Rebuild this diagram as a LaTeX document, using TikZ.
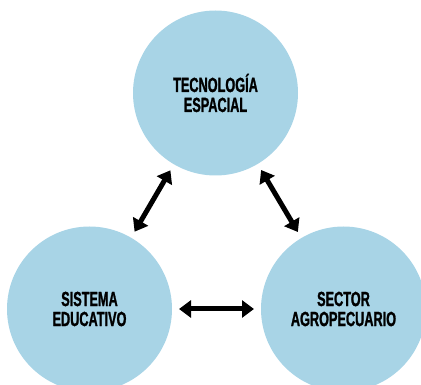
\documentclass[tikz,border=0pt]{standalone}
\usepackage{fontspec}
\setmainfont{Liberation Sans}[FakeStretch=0.62, BoldFeatures={FakeBold=1.2}]
\usetikzlibrary{arrows.meta}
\definecolor{circ}{HTML}{A8D4E6}
\tikzset{
  bubble/.style={circle, fill=circ, minimum size=165pt, inner sep=0pt, outer sep=0pt,
    align=center, font=\bfseries\fontsize{20.5}{20}\selectfont, text=black},
  link/.style={{Triangle[length=12pt,width=17pt]}-{Triangle[length=12pt,width=17pt]}, line width=5pt, shorten <=7pt, shorten >=7pt}
}
\begin{document}
\begin{tikzpicture}[x=1pt,y=-1pt]
\useasboundingbox (0,0) rectangle (421,385);
\clip (0,0) rectangle (421,385);
\node[bubble] (tec) at (215.5,93) {TECNOLOGÍA\\ESPACIAL};
\node[bubble] (sis) at (89.5,309) {SISTEMA\\EDUCATIVO};
\node[bubble] (sec) at (343.5,309) {SECTOR\\AGROPECUARIO};
\draw[link] (sis) -- (tec);
\draw[link] (tec) -- (sec);
\draw[link] (sis) -- (sec);
\end{tikzpicture}
\end{document}
